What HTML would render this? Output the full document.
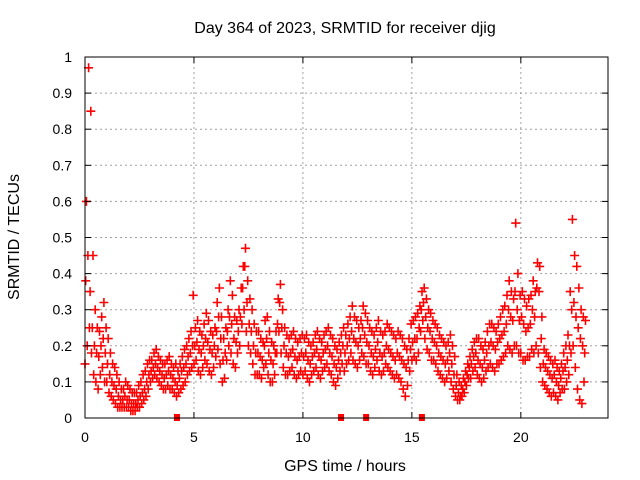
<!DOCTYPE html>
<html><head><meta charset="utf-8"><style>
html,body{margin:0;padding:0;background:#fff;width:640px;height:480px;overflow:hidden}
svg text{font-family:"Liberation Sans",sans-serif;font-size:14px;fill:#000}
svg text.big{font-size:16px}
</style></head><body>
<svg id="chart" width="640" height="480" viewBox="0 0 640 480" xmlns="http://www.w3.org/2000/svg">
<rect width="640" height="480" fill="#fff"/>
<g id="grid"></g>
<g id="points"></g>
<g id="axes"></g>
<text class="big" x="345" y="33" text-anchor="middle">Day 364 of 2023, SRMTID for receiver djig</text>
<text class="big" x="345" y="471" text-anchor="middle">GPS time / hours</text>
<text class="big" x="0" y="0" text-anchor="middle" transform="translate(19,237) rotate(-90)">SRMTID / TECUs</text>
</svg>
<script>
const xTicks=[0,5,10,15,20];
const yTicks=[0,0.1,0.2,0.3,0.4,0.5,0.6,0.7,0.8,0.9,1];
const yTickLabels=["0","0.1","0.2","0.3","0.4","0.5","0.6","0.7","0.8","0.9","1"];
const tStart=0, tStep=0.1;
const midVals=[38,45,35,25,20,18,17,20,22,18,15,12,10,9,8,6,5,5,6,5,5,4,4,4,5,6,7,8,10,12,13,14,15,14,13,12,11,12,13,12,11,10,9,11,13,14,15,17,18,20,20,21,19,18,20,22,21,19,18,20,24,28,22,16,18,24,28,26,22,21,24,28,36,42,32,26,24,20,18,18,17,16,20,22,18,16,15,18,26,32,25,20,18,17,18,19,17,16,17,18,17,18,16,15,17,18,19,17,16,18,19,20,18,17,15,14,16,18,20,18,20,22,24,22,21,20,22,25,23,21,20,18,17,19,21,18,17,18,20,19,18,17,16,18,17,16,15,14,16,19,21,22,22,25,30,32,28,25,24,22,21,20,18,17,16,15,16,18,15,12,9,7,6,8,10,12,14,15,17,18,16,15,14,16,18,20,21,20,19,21,22,23,24,26,30,28,27,35,30,27,28,26,24,25,26,30,28,36,35,22,15,14,13,12,11,12,10,9,11,13,14,16,20,30,32,28,25,22,20,18];
const hiVals=[60,97,85,45,30,25,24,28,32,25,22,18,15,14,12,10,8,8,10,9,8,7,7,7,9,10,12,13,15,16,16,18,19,17,16,15,15,16,17,15,14,15,13,15,17,19,20,22,24,34,25,27,24,23,26,29,27,24,23,25,32,36,28,22,25,30,38,34,28,27,30,36,42,47,38,33,30,26,24,24,22,21,27,28,24,21,20,24,33,37,30,25,23,22,23,24,22,21,22,23,22,23,21,20,21,23,24,22,21,23,24,25,23,22,20,19,21,23,25,23,26,28,31,28,27,25,27,31,29,27,25,24,23,25,27,24,23,24,26,25,24,23,22,24,23,22,20,19,22,26,27,28,29,31,35,36,33,30,29,27,26,25,23,22,21,20,21,23,20,17,12,10,9,11,13,15,17,19,21,22,22,20,19,21,24,26,26,25,24,26,28,30,31,34,38,35,33,54,40,34,35,33,31,33,34,38,35,43,42,28,19,18,17,16,15,16,14,13,15,18,20,23,35,55,45,42,36,30,28,27];
const loVals=[15,20,25,18,12,10,8,12,14,10,10,7,6,5,4,3,3,3,3,3,3,2,2,2,3,3,4,5,6,8,10,11,12,11,10,9,8,8,9,8,8,7,6,7,8,9,10,12,13,14,15,16,13,12,14,16,15,13,12,14,17,19,15,10,11,16,20,18,15,14,18,20,26,30,24,20,18,15,12,12,12,11,14,15,12,10,10,12,18,24,18,14,12,12,13,14,12,11,12,13,12,13,11,10,12,13,14,12,11,13,14,15,13,12,10,9,11,13,15,13,15,16,18,16,15,14,16,18,17,15,15,13,12,14,16,13,12,13,15,14,13,12,11,12,11,10,8,6,9,13,16,17,16,18,24,27,22,19,18,16,16,15,13,12,11,10,11,13,10,8,6,5,5,6,7,9,11,11,13,14,12,11,10,11,13,14,15,14,13,15,15,16,17,18,20,19,18,20,20,18,18,16,16,17,17,19,18,20,18,14,10,9,8,7,6,7,6,5,7,8,8,10,12,18,20,14,8,5,4,10];
const zeroMarks=[4.22,11.75,12.9,15.46];
const L=85,R=608,T=57,B=418,XMAX=24;
const xs=v=>L+(v/XMAX)*(R-L);
const ys=v=>B-v*(B-T);
const NS="http://www.w3.org/2000/svg";
function mk(tag,attrs,parent){const e=document.createElementNS(NS,tag);for(const k in attrs)e.setAttribute(k,attrs[k]);parent.appendChild(e);return e;}
const grid=document.getElementById('grid'),axes=document.getElementById('axes'),pts=document.getElementById('points');
xTicks.forEach(t=>{
 const x=xs(t);
 if(t>0){const g=mk('line',{x1:x,x2:x,y1:T,y2:B,stroke:'#a0a0a0','stroke-dasharray':'2,3'},grid);
 
 }
 mk('line',{x1:x,x2:x,y1:B,y2:B-6,stroke:'#000'},axes);
 mk('line',{x1:x,x2:x,y1:T,y2:T+6,stroke:'#000'},axes);
 const lb=mk('text',{x:x,y:B+24,'text-anchor':'middle'},axes);lb.textContent=t;
 
 
});
yTicks.forEach((t,i)=>{
 const y=ys(t);
 if(t>0&&t<1){const g=mk('line',{x1:L,x2:R,y1:y,y2:y,stroke:'#a0a0a0','stroke-dasharray':'2,3'},grid);
 
 }
 mk('line',{x1:L,x2:L+6,y1:y,y2:y,stroke:'#000'},axes);
 mk('line',{x1:R,x2:R-6,y1:y,y2:y,stroke:'#000'},axes);
 const lb=mk('text',{x:L-13,y:y+5,'text-anchor':'end'},axes);lb.textContent=yTickLabels[i];
 
 
});
const border=mk('rect',{x:L,y:T,width:R-L,height:B-T,fill:'none',stroke:'#000'},axes);


let d='';
function plus(t,v){const x=xs(t),y=ys(v);d+=`M${(x-4.5).toFixed(1)} ${y.toFixed(1)}h9M${x.toFixed(1)} ${(y-4.5).toFixed(1)}v9`;}
[loVals,midVals,hiVals].forEach((arr,k)=>arr.forEach((v,i)=>plus(tStart+i*tStep+k*0.033,v/100)));
const p=mk('path',{d:d,stroke:'#ff0000','stroke-width':1.6,fill:'none'},pts);


zeroMarks.forEach(t=>{
 const r=mk('rect',{x:xs(t)-3,y:B-4,width:6,height:7,fill:'#ff0000'},pts);
 
 
});
</script>
</body></html>
